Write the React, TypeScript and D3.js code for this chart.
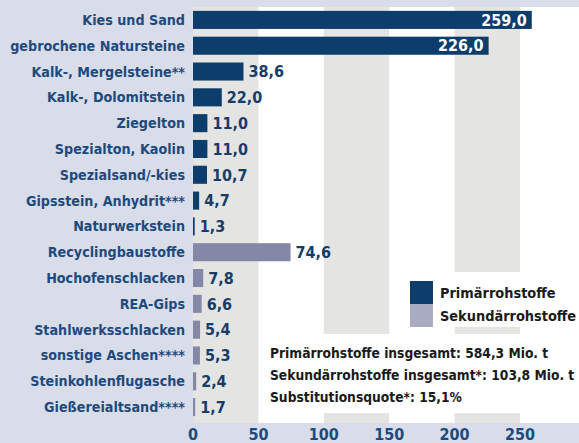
import React from 'react';
import * as d3 from 'd3';

const categories = [
  'Kies und Sand',
  'gebrochene Natursteine',
  'Kalk-, Mergelsteine**',
  'Kalk-, Dolomitstein',
  'Ziegelton',
  'Spezialton, Kaolin',
  'Spezialsand/-kies',
  'Gipsstein, Anhydrit***',
  'Naturwerkstein',
  'Recyclingbaustoffe',
  'Hochofenschlacken',
  'REA-Gips',
  'Stahlwerksschlacken',
  'sonstige Aschen****',
  'Steinkohlenflugasche',
  'Gießereialtsand****',
];
const values = [259.0, 226.0, 38.6, 22.0, 11.0, 11.0, 10.7, 4.7, 1.3, 74.6, 7.8, 6.6, 5.4, 5.3, 2.4, 1.7];
const groups = ['P', 'P', 'P', 'P', 'P', 'P', 'P', 'P', 'P', 'S', 'S', 'S', 'S', 'S', 'S', 'S'];
const ticks = [0, 50, 100, 150, 200, 250];
const legendItems = ['Primärrohstoffe', 'Sekundärrohstoffe'];
const notes = [
  'Primärrohstoffe insgesamt: 584,3 Mio. t',
  'Sekundärrohstoffe insgesamt*: 103,8 Mio. t',
  'Substitutionsquote*: 15,1%',
];

const W = 579;
const H = 443;
const left = 193;
const top = 7;
const bottom = 423;

const fmt = (v: number) => v.toFixed(1).replace('.', ',');
const font = "'DejaVu Sans Condensed', 'DejaVu Sans', sans-serif";

export default function App() {
  const x = d3.scaleLinear().domain([0, 250]).range([left, 520]);
  const y = d3
    .scaleBand<string>()
    .domain(categories)
    .range([top, 420])
    .paddingInner(0.3)
    .paddingOuter(0.15);

  const color = { P: '#0d3d6b', S: '#8587a6' };
  const legendColor = ['#0d3d6b', '#a9abc3'];

  return (
    <svg width={W} height={H} style={{ position: 'absolute', left: 0, top: 0 }} fontFamily={font}>
      <rect x={0} y={0} width={W} height={H} fill="#d9dce9" />
      <rect x={left} y={top} width={W - left} height={bottom - top} fill="#ffffff" />
      {/* alternating stripes */}
      {[0, 100, 200].map(t => (
        <rect key={t} x={x(t)} y={top} width={x(t + 50) - x(t)} height={bottom - top} fill="#e4e5e3" />
      ))}
      {/* white boxes behind legend and notes */}
      <rect x={398} y={272} width={W - 398} height={55} fill="#ffffff" />
      <rect x={262} y={334} width={W - 262} height={79} fill="#ffffff" />

      {categories.map((c, i) => {
        const yy = y(c)!;
        const bw = x(values[i]) - x(0);
        const inside = values[i] > 200;
        return (
          <g key={c}>
            <rect x={x(0)} y={yy} width={bw} height={y.bandwidth()} fill={color[groups[i]]} />
            <text
              x={left - 8}
              y={yy + y.bandwidth() / 2}
              dy="0.35em"
              textAnchor="end"
              fontSize={14.2}
              fontWeight="bold"
              fill="#1d4a7c"
            >
              {c}
            </text>
            <text
              x={inside ? x(values[i]) - 5 : x(values[i]) + 5}
              y={yy + y.bandwidth() / 2}
              dy="0.36em"
              textAnchor={inside ? 'end' : 'start'}
              fontSize={16}
              fontWeight="bold"
              fill={inside ? '#ffffff' : '#163d68'}
            >
              {fmt(values[i])}
            </text>
          </g>
        );
      })}

      {ticks.map(t => (
        <text key={t} x={x(t)} y={440} textAnchor="middle" fontSize={16} fontWeight="bold" fill="#1d4a7c">
          {t}
        </text>
      ))}

      {legendItems.map((l, i) => (
        <g key={l}>
          <rect x={410} y={281 + i * 23} width={23} height={23} fill={legendColor[i]} />
          <text x={440} y={292.5 + i * 23} dy="0.35em" fontSize={14.4} fontWeight="bold" fill="#1a1a1a">
            {l}
          </text>
        </g>
      ))}

      {notes.map((n, i) => (
        <text key={n} x={270} y={358 + i * 22} fontSize={13.7} fontWeight="bold" fill="#1a1a1a">
          {n}
        </text>
      ))}
    </svg>
  );
}
